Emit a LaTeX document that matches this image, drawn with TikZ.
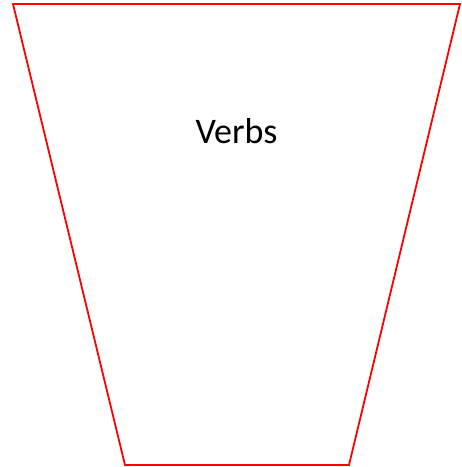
\documentclass[tikz,border=0pt]{standalone}
\usepackage{fontspec}
\setmainfont{Carlito}
\usetikzlibrary{positioning}

\begin{document}
\begin{tikzpicture}[x=1pt,y=-1pt]
\useasboundingbox (0,0) rectangle (462,467);

\coordinate (tl) at (13,4);
\coordinate (tr) at (460,4);
\coordinate (br) at (349,465);
\coordinate (bl) at (125,465);

% the trapezoid
\draw[red, line width=1.8pt, line join=miter] (tl) -- (tr) -- (br) -- (bl) -- cycle;

\node[font=\fontsize{36}{42}\selectfont, inner sep=0pt] (verbs) at (236.5,131) {Verbs};
\end{tikzpicture}
\end{document}
